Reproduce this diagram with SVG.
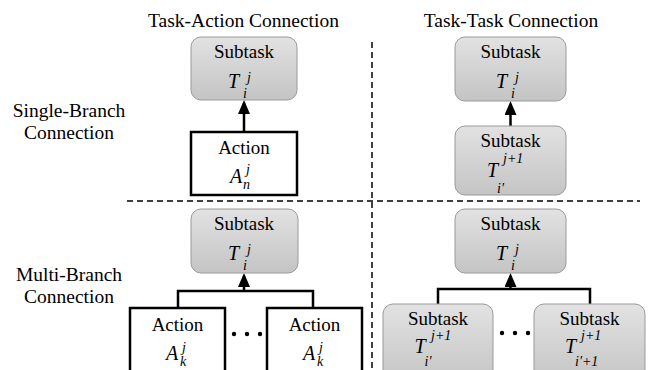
<svg xmlns="http://www.w3.org/2000/svg" width="656" height="370" viewBox="0 0 656 370" font-family="'Liberation Serif', 'Times New Roman', serif">
<defs>
<linearGradient id="g" x1="0" y1="0" x2="0" y2="1">
<stop offset="0" stop-color="#e2e2e2"/>
<stop offset="1" stop-color="#c4c4c4"/>
</linearGradient>
<marker id="arr" markerUnits="userSpaceOnUse" markerWidth="14" markerHeight="12" refX="11" refY="6" orient="auto" viewBox="0 0 14 12">
<path d="M0,0 L14,6 L0,12 Z" fill="#000"/>
</marker>
<style>
text{font-family:"Liberation Serif","Times New Roman",serif;fill:#000}
.lbl{font-size:19.5px;text-anchor:middle}
.nm{font-size:19px;text-anchor:middle}
.m{font-size:20px;font-style:italic}
.s{font-size:14px;font-style:italic}
.task{fill:url(#g);stroke:#9a9a9a;stroke-width:1}
.act{fill:#fff;stroke:#000;stroke-width:2.5}
.dash{stroke:#000;stroke-width:1.5;stroke-dasharray:6 4;fill:none}
.con{stroke:#000;stroke-width:2.5;fill:none}
</style>
</defs>
<rect width="656" height="370" fill="#fff"/>

<g id="labels">
<text class="lbl" x="243.5" y="27">Task-Action Connection</text>
<text class="lbl" x="511" y="27">Task-Task Connection</text>
<text class="lbl" x="69" y="117">Single-Branch</text>
<text class="lbl" x="69" y="139">Connection</text>
<text class="lbl" x="69" y="281">Multi-Branch</text>
<text class="lbl" x="69" y="303">Connection</text>
</g>

<g id="dividers">
<line class="dash" x1="127" y1="201" x2="640" y2="201"/>
<line class="dash" x1="372" y1="42" x2="372" y2="370"/>
</g>

<g id="connectors">
<line class="con" x1="244" y1="132" x2="244" y2="103" marker-end="url(#arr)"/>
<line class="con" x1="510.5" y1="126" x2="510.5" y2="104" marker-end="url(#arr)"/>
<polyline class="con" points="178,308 178,291 313,291 313,308"/>
<line class="con" x1="244" y1="291" x2="244" y2="276" marker-end="url(#arr)"/>
<polyline class="con" points="438,304 438,289 590,289 590,304"/>
<line class="con" x1="510.5" y1="289" x2="510.5" y2="276" marker-end="url(#arr)"/>
</g>

<g id="ta-single-subtask">
<rect class="task" x="191" y="37" width="106" height="63" rx="10"/>
<text class="nm" x="244" y="58">Subtask</text>
<text class="m" x="228" y="88">T</text><text class="s" x="247" y="82">j</text><text class="s" x="243" y="98">i</text>
</g>

<g id="ta-single-action">
<rect class="act" x="191" y="132" width="106" height="63"/>
<text class="nm" x="244" y="154">Action</text>
<text class="m" x="230" y="183">A</text><text class="s" x="246" y="174">j</text><text class="s" x="243" y="189">n</text>
</g>

<g id="tt-single-subtask">
<rect class="task" x="455" y="37" width="111" height="64" rx="10"/>
<text class="nm" x="510.5" y="58">Subtask</text>
<text class="m" x="496" y="88">T</text><text class="s" x="515" y="82">j</text><text class="s" x="511" y="98">i</text>
</g>

<g id="tt-single-child">
<rect class="task" x="455" y="126" width="111" height="69" rx="10"/>
<text class="nm" x="510.5" y="147">Subtask</text>
<text class="m" x="487" y="177">T</text><text class="s" x="503" y="163">j+1</text><text class="s" x="497" y="193">i'</text>
</g>

<g id="ta-multi-subtask">
<rect class="task" x="191" y="209" width="107" height="64" rx="10"/>
<text class="nm" x="244" y="230">Subtask</text>
<text class="m" x="228" y="260">T</text><text class="s" x="247" y="254">j</text><text class="s" x="243" y="270">i</text>
</g>

<g id="ta-multi-action1">
<rect class="act" x="130" y="308" width="95" height="80"/>
<text class="nm" x="177.5" y="331">Action</text>
<text class="m" x="166" y="360">A</text><text class="s" x="182" y="352">j</text><text class="s" x="180" y="366">k</text>
</g>

<g id="ta-multi-dots">
<circle cx="234" cy="334" r="2.2"/><circle cx="247" cy="334" r="2.2"/><circle cx="260" cy="334" r="2.2"/>
</g>

<g id="ta-multi-action2">
<rect class="act" x="267" y="308" width="95" height="80"/>
<text class="nm" x="314.5" y="331">Action</text>
<text class="m" x="303" y="360">A</text><text class="s" x="319" y="352">j</text><text class="s" x="317" y="366">k</text>
</g>

<g id="tt-multi-subtask">
<rect class="task" x="455" y="209" width="111" height="64" rx="10"/>
<text class="nm" x="510.5" y="230">Subtask</text>
<text class="m" x="496" y="260">T</text><text class="s" x="515" y="254">j</text><text class="s" x="511" y="270">i</text>
</g>

<g id="tt-multi-child1">
<rect class="task" x="383" y="304" width="110" height="80" rx="10"/>
<text class="nm" x="438" y="325">Subtask</text>
<text class="m" x="414.5" y="353">T</text><text class="s" x="431" y="340">j+1</text><text class="s" x="424.5" y="366">i'</text>
</g>

<g id="tt-multi-dots">
<circle cx="502" cy="333" r="2.2"/><circle cx="515" cy="333" r="2.2"/><circle cx="528" cy="333" r="2.2"/>
</g>

<g id="tt-multi-child2">
<rect class="task" x="534" y="304" width="111" height="80" rx="10"/>
<text class="nm" x="589.5" y="325">Subtask</text>
<text class="m" x="565" y="353">T</text><text class="s" x="581" y="340">j+1</text><text class="s" x="575" y="366">i'+1</text>
</g>
</svg>
